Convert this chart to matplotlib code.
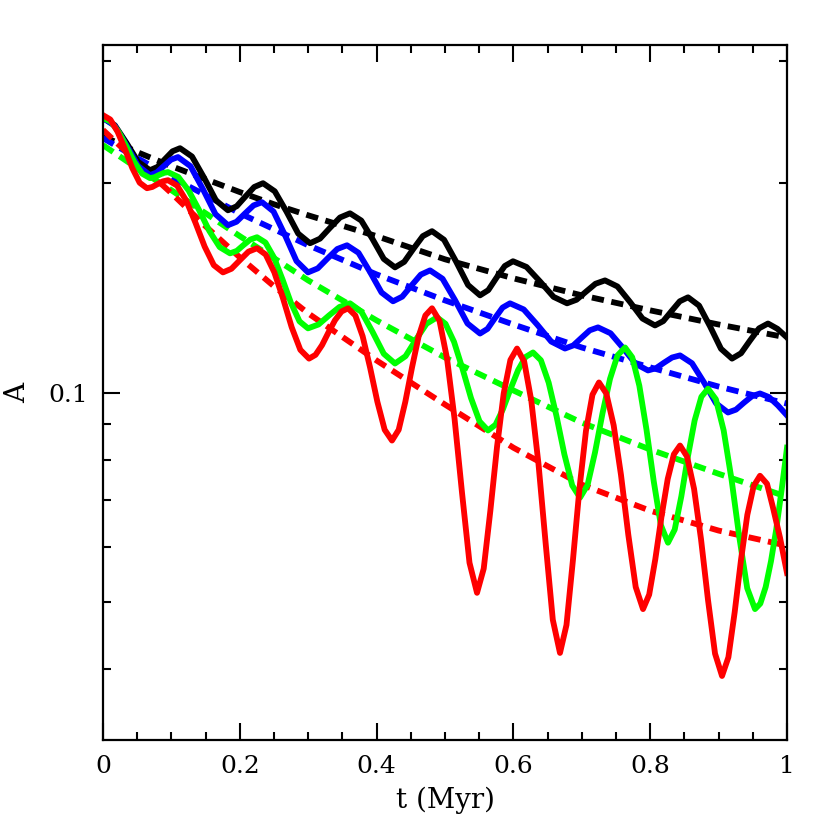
import matplotlib
matplotlib.use("Agg")
import matplotlib.pyplot as plt
from matplotlib.ticker import FixedLocator, FixedFormatter, NullFormatter

# amplitude A vs time t (Myr)
t_red = [0, 0.0107, 0.0214, 0.0322, 0.0429, 0.0536, 0.0643,
         0.0720, 0.0797, 0.0873, 0.0950,
         0.1084, 0.1218, 0.1352, 0.1486, 0.1620, 0.1754,
         0.1878, 0.2003, 0.2127, 0.2251,
         0.2378, 0.2505, 0.2632, 0.2758, 0.2885, 0.3012,
         0.3107, 0.3202, 0.3297, 0.3392, 0.3487, 0.3582,
         0.3689, 0.3796, 0.3904, 0.4011, 0.4118, 0.4225,
         0.4323, 0.4420, 0.4518, 0.4615, 0.4713, 0.4810,
         0.4920, 0.5029, 0.5139, 0.5249, 0.5358, 0.5468,
         0.5566, 0.5663, 0.5761, 0.5858, 0.5956, 0.6053,
         0.6158, 0.6262, 0.6367, 0.6472, 0.6576, 0.6681,
         0.6776, 0.6871, 0.6966, 0.7061, 0.7156, 0.7251,
         0.7358, 0.7466, 0.7573, 0.7680, 0.7788, 0.7895,
         0.7985, 0.8075, 0.8166, 0.8256, 0.8346, 0.8436,
         0.8538, 0.8641, 0.8743, 0.8845, 0.8948, 0.9050,
         0.9143, 0.9235, 0.9328, 0.9420, 0.9513, 0.9605,
         0.9708, 0.9795, 0.9898, 1.0]
A_red = [0.2507, 0.2471, 0.2372, 0.2238, 0.2103, 0.2004, 0.1968,
         0.1976, 0.1995, 0.2013, 0.2021,
         0.1985, 0.1888, 0.1755, 0.1622, 0.1525, 0.1489,
         0.1507, 0.1551, 0.1595, 0.1613,
         0.1580, 0.1489, 0.1366, 0.1242, 0.1152, 0.1119,
         0.1133, 0.1170, 0.1221, 0.1271, 0.1308, 0.1322,
         0.1291, 0.1205, 0.1087, 0.0970, 0.0884, 0.0853,
         0.0884, 0.0970, 0.1087, 0.1205, 0.1291, 0.1322,
         0.1268, 0.1120, 0.0918, 0.0717, 0.0569, 0.0515,
         0.0558, 0.0676, 0.0836, 0.0997, 0.1114, 0.1157,
         0.1108, 0.0973, 0.0789, 0.0606, 0.0471, 0.0422,
         0.0463, 0.0575, 0.0728, 0.0881, 0.0993, 0.1034,
         0.0997, 0.0897, 0.0761, 0.0624, 0.0525, 0.0488,
         0.0512, 0.0576, 0.0664, 0.0751, 0.0815, 0.0839,
         0.0809, 0.0727, 0.0615, 0.0503, 0.0421, 0.0391,
         0.0416, 0.0483, 0.0575, 0.0667, 0.0734, 0.0759,
         0.0739, 0.0683, 0.0618, 0.0550]

t_green = [0, 0.0115, 0.0229, 0.0344, 0.0458, 0.0573, 0.0687,
           0.0753, 0.0819, 0.0884, 0.0950,
           0.1101, 0.1252, 0.1404, 0.1555, 0.1706, 0.1857,
           0.1956, 0.2054, 0.2153, 0.2251,
           0.2375, 0.2500, 0.2624, 0.2748, 0.2873, 0.2997,
           0.3151, 0.3304, 0.3458, 0.3611,
           0.3776, 0.3940, 0.4105, 0.4269,
           0.4423, 0.4576, 0.4730, 0.4883,
           0.5007, 0.5132, 0.5256, 0.5380, 0.5505, 0.5629,
           0.5739, 0.5848, 0.5958, 0.6068, 0.6177, 0.6287,
           0.6402, 0.6516, 0.6631, 0.6745, 0.6860, 0.6974,
           0.7084, 0.7193, 0.7303, 0.7413, 0.7522, 0.7632,
           0.7737, 0.7841, 0.7946, 0.8051, 0.8155, 0.8260,
           0.8358, 0.8455, 0.8553, 0.8650, 0.8748, 0.8845,
           0.8960, 0.9074, 0.9189, 0.9303, 0.9418, 0.9532,
           0.9610, 0.9688, 0.9766, 0.9844, 0.9922, 1.0]
A_green = [0.2483, 0.2453, 0.2371, 0.2259, 0.2147, 0.2065, 0.2035,
           0.2041, 0.2056, 0.2070, 0.2076,
           0.2043, 0.1953, 0.1831, 0.1708, 0.1619, 0.1586,
           0.1599, 0.1630, 0.1660, 0.1673,
           0.1644, 0.1564, 0.1455, 0.1346, 0.1266, 0.1237,
           0.1253, 0.1291, 0.1328, 0.1344,
           0.1308, 0.1223, 0.1137, 0.1101,
           0.1128, 0.1192, 0.1256, 0.1283,
           0.1256, 0.1183, 0.1082, 0.0982, 0.0909, 0.0882,
           0.0899, 0.0947, 0.1012, 0.1077, 0.1125, 0.1142,
           0.1113, 0.1033, 0.0924, 0.0815, 0.0735, 0.0706,
           0.0736, 0.0820, 0.0934, 0.1047, 0.1131, 0.1161,
           0.1124, 0.1023, 0.0884, 0.0746, 0.0645, 0.0608,
           0.0635, 0.0709, 0.0811, 0.0912, 0.0986, 0.1013,
           0.0978, 0.0882, 0.0750, 0.0619, 0.0523, 0.0488,
           0.0497, 0.0525, 0.0572, 0.0637, 0.0725, 0.0833]

t_blue = [0, 0.0172, 0.0344, 0.0515, 0.0687,
          0.0789, 0.0892, 0.0994, 0.1096,
          0.1279, 0.1462, 0.1644, 0.1827,
          0.1952, 0.2076, 0.2201, 0.2325,
          0.2493, 0.2661, 0.2829, 0.2997,
          0.3140, 0.3282, 0.3425, 0.3567,
          0.3735, 0.3904, 0.4072, 0.4240,
          0.4375, 0.4511, 0.4646, 0.4781,
          0.4964, 0.5147, 0.5329, 0.5512,
          0.5622, 0.5731, 0.5841, 0.5950,
          0.6151, 0.6352, 0.6553, 0.6754,
          0.6875, 0.6996, 0.7116, 0.7237,
          0.7420, 0.7603, 0.7785, 0.7968,
          0.8085, 0.8202, 0.8319, 0.8436,
          0.8611, 0.8787, 0.8962, 0.9137,
          0.9254, 0.9371, 0.9488, 0.9605,
          0.9737, 0.9868, 1.0]
A_blue = [0.2483, 0.2420, 0.2269, 0.2118, 0.2055,
          0.2074, 0.2119, 0.2163, 0.2182,
          0.2117, 0.1961, 0.1806, 0.1741,
          0.1761, 0.1810, 0.1859, 0.1879,
          0.1822, 0.1684, 0.1546, 0.1489,
          0.1509, 0.1559, 0.1609, 0.1629,
          0.1589, 0.1491, 0.1393, 0.1353,
          0.1374, 0.1426, 0.1478, 0.1499,
          0.1458, 0.1358, 0.1257, 0.1216,
          0.1235, 0.1280, 0.1325, 0.1344,
          0.1317, 0.1251, 0.1184, 0.1157,
          0.1169, 0.1199, 0.1229, 0.1241,
          0.1217, 0.1159, 0.1100, 0.1076,
          0.1084, 0.1104, 0.1123, 0.1131,
          0.1102, 0.1034, 0.0965, 0.0936,
          0.0945, 0.0967, 0.0988, 0.0997,
          0.0985, 0.0958, 0.0927]

t_black = [0, 0.0172, 0.0344, 0.0515, 0.0687,
           0.0797, 0.0907, 0.1016, 0.1126,
           0.1301, 0.1477, 0.1652, 0.1827,
           0.1955, 0.2083, 0.2211, 0.2339,
           0.2511, 0.2683, 0.2854, 0.3026,
           0.3172, 0.3319, 0.3465, 0.3611,
           0.3776, 0.3940, 0.4105, 0.4269,
           0.4404, 0.4540, 0.4675, 0.4810,
           0.4986, 0.5161, 0.5337, 0.5512,
           0.5633, 0.5753, 0.5874, 0.5994,
           0.6192, 0.6389, 0.6587, 0.6784,
           0.6923, 0.7062, 0.7200, 0.7339,
           0.7522, 0.7705, 0.7887, 0.8070,
           0.8191, 0.8312, 0.8432, 0.8553,
           0.8714, 0.8875, 0.9035, 0.9196,
           0.9328, 0.9459, 0.9591, 0.9722,
           0.9861, 1.0]
A_black = [0.2483, 0.2425, 0.2286, 0.2147, 0.2089,
           0.2112, 0.2168, 0.2224, 0.2247,
           0.2186, 0.2038, 0.1890, 0.1829,
           0.1854, 0.1915, 0.1976, 0.2001,
           0.1948, 0.1821, 0.1693, 0.1640,
           0.1665, 0.1726, 0.1786, 0.1811,
           0.1768, 0.1663, 0.1557, 0.1514,
           0.1542, 0.1611, 0.1679, 0.1707,
           0.1659, 0.1544, 0.1428, 0.1380,
           0.1404, 0.1463, 0.1521, 0.1545,
           0.1516, 0.1445, 0.1373, 0.1344,
           0.1360, 0.1397, 0.1434, 0.1450,
           0.1421, 0.1350, 0.1278, 0.1249,
           0.1267, 0.1310, 0.1353, 0.1371,
           0.1334, 0.1245, 0.1156, 0.1119,
           0.1139, 0.1188, 0.1237, 0.1257,
           0.1235, 0.1200]

# smooth (dashed) curves
t_fit = [0, 0.05, 0.1, 0.15, 0.2, 0.25, 0.3, 0.4, 0.5, 0.6, 0.7, 0.8, 0.9, 1.0]
fit_black = [0.2339, 0.2218, 0.2117, 0.2028, 0.1943, 0.1866, 0.1799, 0.1679,
             0.1555, 0.1460, 0.1380, 0.1313, 0.1253, 0.1200]
fit_blue = [0.2323, 0.2175, 0.2041, 0.1923, 0.1811, 0.1718, 0.1629, 0.1479,
            0.1357, 0.1253, 0.1161, 0.1087, 0.1020, 0.0964]
fit_green = [0.2270, 0.2103, 0.1955, 0.1811, 0.1679, 0.1561, 0.1450, 0.1270,
             0.1123, 0.1007, 0.0905, 0.0828, 0.0764, 0.0708]
fit_red = [0.2387, 0.2146, 0.1936, 0.1735, 0.1565, 0.1422, 0.1300, 0.1112,
           0.0961, 0.0833, 0.0737, 0.0676, 0.0633, 0.0602]

plt.rcParams['font.family'] = 'DejaVu Serif'

fig = plt.figure(figsize=(8.3, 8.3), dpi=100)
ax = fig.add_axes([0.1241, 0.1084, 0.8241, 0.8373])

lw = 4.2
dash = (0, (2.1, 1.3))
for tt, aa, c in [(t_fit, fit_black, 'black'), (t_fit, fit_blue, '#0000ff'),
                  (t_fit, fit_green, '#00ff00'), (t_fit, fit_red, '#ff0000')]:
    ax.plot(tt, aa, color=c, lw=lw, ls=dash, dash_joinstyle='round')

for tt, aa, c in [(t_black, A_black, 'black'), (t_blue, A_blue, '#0000ff'),
                  (t_green, A_green, '#00ff00'), (t_red, A_red, '#ff0000')]:
    ax.plot(tt, aa, color=c, lw=lw, solid_joinstyle='round')

ax.set_yscale('log')
ax.set_xlim(0, 1)
ax.set_ylim(10 ** -1.5, 10 ** -0.5)

ax.set_xticks([0, 0.2, 0.4, 0.6, 0.8, 1.0])
ax.set_xticklabels(['0', '0.2', '0.4', '0.6', '0.8', '1'])
ax.set_xticks([0.05, 0.1, 0.15, 0.25, 0.3, 0.35, 0.45, 0.5, 0.55, 0.65, 0.7,
               0.75, 0.85, 0.9, 0.95], minor=True)
ax.yaxis.set_major_locator(FixedLocator([0.1]))
ax.yaxis.set_major_formatter(FixedFormatter(['0.1']))
ax.yaxis.set_minor_locator(FixedLocator([0.04, 0.05, 0.06, 0.07, 0.08, 0.09, 0.2, 0.3]))
ax.yaxis.set_minor_formatter(NullFormatter())

ax.tick_params(which='both', direction='in', top=True, right=True, width=1.5,
               labelsize=18, pad=11)
ax.tick_params(which='major', length=12)
ax.tick_params(which='minor', length=6)
for s in ax.spines.values():
    s.set_linewidth(1.6)

ax.set_xlabel('t (Myr)', fontsize=20, labelpad=6)
ax.set_ylabel('A', fontsize=20, labelpad=12)

fig.savefig('out.png', dpi=100)
